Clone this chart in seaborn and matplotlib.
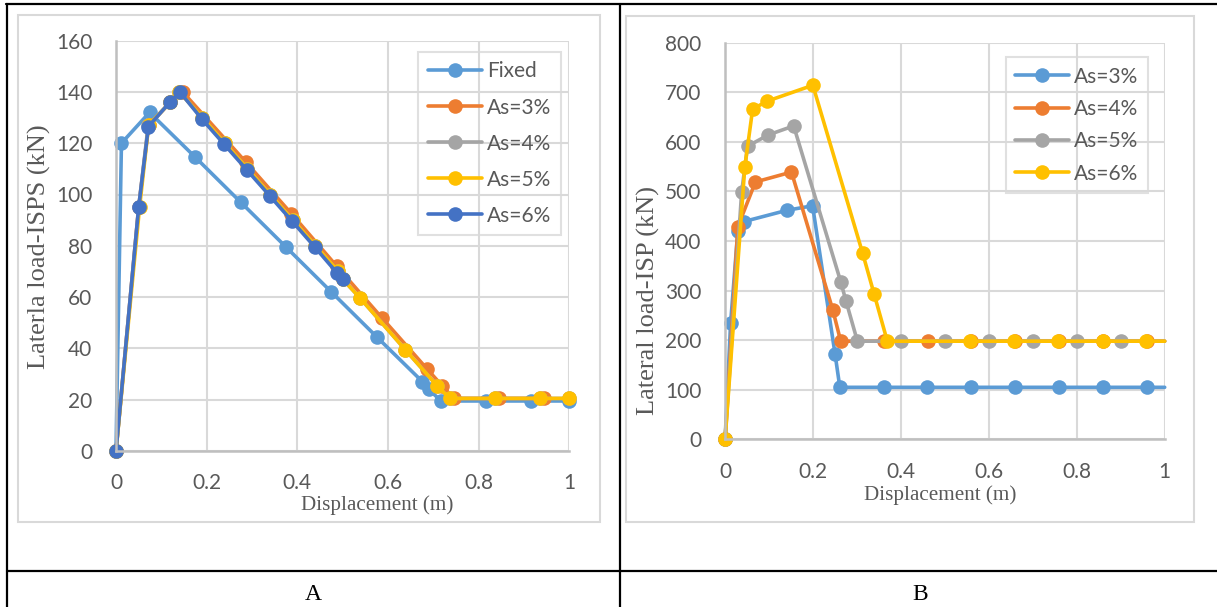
import matplotlib.pyplot as plt
import seaborn as sns
from matplotlib.lines import Line2D
from matplotlib.patches import Rectangle
from matplotlib.ticker import FuncFormatter

# ---- data ----
# A: Laterla load-ISPS vs displacement
a_fixed_x = [0, 0.012, 0.074, 0.175, 0.275, 0.375, 0.475, 0.575, 0.676, 0.69, 0.717, 0.817, 0.916, 1.0]
a_fixed_y = [0, 120, 132, 114.5, 97, 79.5, 62, 44.5, 27, 24, 19.5, 19.5, 19.5, 19.5]

a_as3_x = [0, 0.05, 0.072, 0.12, 0.147, 0.287, 0.387, 0.487, 0.586, 0.686, 0.719, 0.745, 0.845, 0.945]
a_as3_y = [0, 95, 127, 136, 140, 112.5, 92.5, 72, 52, 32, 25.5, 20.5, 20.5, 20.5]

a_as4_x = [0, 0.05, 0.071, 0.12, 0.14, 0.19, 0.24, 0.29, 0.34, 0.39, 0.44, 0.49, 0.5, 0.539, 0.638, 0.708, 0.736, 0.836, 0.936, 1.0]
a_as4_y = [0, 95, 127, 136, 140, 130, 120, 110, 100, 90, 80, 70, 67, 59.5, 39.5, 25.5, 20.5, 20.5, 20.5, 20.5]

a_as5_x = [0, 0.052, 0.072, 0.12, 0.14, 0.19, 0.24, 0.29, 0.34, 0.39, 0.44, 0.49, 0.5, 0.539, 0.638, 0.708, 0.736, 0.836, 0.936, 1.0]
a_as5_y = [0, 95, 127, 136, 140, 130, 120, 110, 100, 90, 80, 70, 67, 59.5, 39.5, 25.5, 20.5, 20.5, 20.5, 20.5]

a_as6_x = [0, 0.05, 0.0715, 0.119, 0.141, 0.189, 0.239, 0.289, 0.339, 0.389, 0.4385, 0.487, 0.501]
a_as6_y = [0, 95, 126.5, 136, 140, 129.5, 119.5, 109.5, 99.5, 89.5, 79.5, 69.5, 67]

# B: Lateral load-ISP vs displacement (last point = where the line leaves the plot at x=1, no marker)
b_as3_x = [0, 0.0125, 0.029, 0.042, 0.141, 0.199, 0.25, 0.261, 0.361, 0.46, 0.56, 0.66, 0.76, 0.86, 0.96, 1.0]
b_as3_y = [0, 234, 421, 439, 462, 471, 173, 105, 105, 105, 105, 105, 105, 105, 105, 105]

b_as4_x = [0, 0.029, 0.069, 0.151, 0.245, 0.263, 0.362, 0.462, 0.56, 0.66, 0.76, 0.86, 0.96, 1.0]
b_as4_y = [0, 429, 519, 539, 261, 198, 198, 198, 198, 198, 198, 198, 198, 198]

b_as5_x = [0, 0.0376, 0.051, 0.0985, 0.156, 0.263, 0.275, 0.301, 0.401, 0.501, 0.6, 0.7, 0.8, 0.9, 1.0]
b_as5_y = [0, 498, 591, 614, 632, 318, 279, 198, 198, 198, 198, 198, 198, 198, 198]

b_as6_x = [0, 0.0448, 0.0627, 0.0958, 0.1996, 0.313, 0.339, 0.369, 0.558, 0.658, 0.758, 0.859, 0.958, 1.0]
b_as6_y = [0, 549, 666, 682, 714, 375, 293, 198, 198, 198, 198, 198, 198, 198]

x_ticks = [0, 0.2, 0.4, 0.6, 0.8, 1]
a_y_ticks = [0, 20, 40, 60, 80, 100, 120, 140, 160]
b_y_ticks = [0, 100, 200, 300, 400, 500, 600, 700, 800]

BLUE = "#5B9BD5"
ORANGE = "#ED7D31"
GRAY = "#A5A5A5"
YELLOW = "#FFC000"
DARKBLUE = "#4472C4"
TXT = "#595959"
GRID = "#D9D9D9"
AXIS = "#BFBFBF"
MS = 10.5
LW = 2.6

sns.set_theme(style="white")
plt.rcParams['font.family'] = ['Lato', 'DejaVu Sans']
SERIF = ['Liberation Serif', 'DejaVu Serif']

W, H = 1217, 607
fig = plt.figure(figsize=(W / 100, H / 100), dpi=100)


def fx(px):
    return px / W


def fy(py):
    return 1 - py / H


# table frame and chart boxes
for xs, ys in [([6, W], [4, 4]), ([7, 7], [4, H]), ([620, 620], [4, H]), ([7, W], [571, 571])]:
    fig.add_artist(Line2D([fx(v) for v in xs], [fy(v) for v in ys], color="black", lw=1.6,
                          transform=fig.transFigure))
for x0, y0, x1, y1 in [(18, 15, 600, 522), (626, 16, 1194, 522)]:
    fig.add_artist(Rectangle((fx(x0), fy(y1)), fx(x1) - fx(x0), fy(y0) - fy(y1), fill=False,
                             edgecolor=GRID, lw=1.5, transform=fig.transFigure))

fig.text(fx(313), fy(594), "A", family=SERIF, fontsize=17, ha="center", va="center", color="black")
fig.text(fx(920), fy(594), "B", family=SERIF, fontsize=17, ha="center", va="center", color="black")


def style_axes(ax, yticks, ylabel, xlab_pos, ylab_pos):
    ax.set_xlim(0, 1)
    ax.set_ylim(yticks[0], yticks[-1])
    ax.set_xticks(x_ticks)
    ax.set_yticks(yticks)
    ax.xaxis.set_major_formatter(FuncFormatter(lambda v, p: f"{v:g}"))
    ax.grid(True, color=GRID, lw=1.5)
    ax.set_axisbelow(True)
    for s in ["top", "right"]:
        ax.spines[s].set_visible(False)
    for s in ["left", "bottom"]:
        ax.spines[s].set_color(AXIS)
        ax.spines[s].set_linewidth(1.8)
    ax.tick_params(axis="both", length=4, width=1.5, color=AXIS, labelsize=15, labelcolor=TXT)
    ax.tick_params(axis="x", pad=12)
    ax.tick_params(axis="y", pad=13)
    ax.set_xlabel("Displacement (m)", family=SERIF, fontsize=15.2, color=TXT)
    ax.set_ylabel(ylabel, family=SERIF, fontsize=19, color=TXT)
    ax.xaxis.set_label_coords(*xlab_pos)
    ax.yaxis.set_label_coords(*ylab_pos)
    ax.xaxis.label.set_va("center")
    ax.yaxis.label.set_va("center")


def draw(ax, x, y, color, trailing=False):
    kw = dict(markevery=slice(0, len(x) - 1)) if trailing else {}
    sns.lineplot(x=x, y=y, ax=ax, color=color, marker="o", markersize=MS, markeredgewidth=0,
                 linewidth=LW, errorbar=None, sort=False, clip_on=False, **kw)


def handles(colors):
    return [Line2D([], [], color=c, marker="o", markersize=MS, markeredgewidth=0, lw=LW) for c in colors]


# ---- chart A ----
axA = fig.add_axes([fx(116), fy(451), fx(569.4) - fx(116), fy(40.6) - fy(451)])
draw(axA, a_fixed_x, a_fixed_y, BLUE)
draw(axA, a_as3_x, a_as3_y, ORANGE)
draw(axA, a_as4_x, a_as4_y, GRAY)
draw(axA, a_as5_x, a_as5_y, YELLOW)
draw(axA, a_as6_x, a_as6_y, DARKBLUE)
style_axes(axA, a_y_ticks, "Laterla load-ISPS (kN)", (0.575, -0.132), (-0.1685, 0.498))
legA = axA.legend(handles([BLUE, ORANGE, GRAY, YELLOW, DARKBLUE]),
                  ["Fixed", "As=3%", "As=4%", "As=5%", "As=6%"],
                  loc="upper left", bbox_to_anchor=(0.667, 0.972), borderaxespad=0, fontsize=15,
                  handlelength=2.6, handletextpad=0.25, borderpad=0.45, labelspacing=0.77,
                  fancybox=False, facecolor="none", edgecolor=GRID, framealpha=None)
legA.get_frame().set_linewidth(1.5)
for t in legA.get_texts():
    t.set_color(TXT)

# ---- chart B ----
axB = fig.add_axes([fx(725.1), fy(439.4), fx(1164.7) - fx(725.1), fy(42.6) - fy(439.4)])
draw(axB, b_as3_x, b_as3_y, BLUE, trailing=True)
draw(axB, b_as4_x, b_as4_y, ORANGE, trailing=True)
draw(axB, b_as5_x, b_as5_y, GRAY, trailing=True)
draw(axB, b_as6_x, b_as6_y, YELLOW, trailing=True)
style_axes(axB, b_y_ticks, "Lateral load-ISP (kN)", (0.49, -0.1416), (-0.1754, 0.35))
legB = axB.legend(handles([BLUE, ORANGE, GRAY, YELLOW]),
                  ["As=3%", "As=4%", "As=5%", "As=6%"],
                  loc="upper left", bbox_to_anchor=(0.638, 0.963), borderaxespad=0, fontsize=15,
                  handlelength=2.6, handletextpad=0.25, borderpad=0.45, labelspacing=0.59,
                  fancybox=False, facecolor="none", edgecolor=GRID, framealpha=None)
legB.get_frame().set_linewidth(1.5)
for t in legB.get_texts():
    t.set_color(TXT)

fig.savefig("out.png", dpi=100)
